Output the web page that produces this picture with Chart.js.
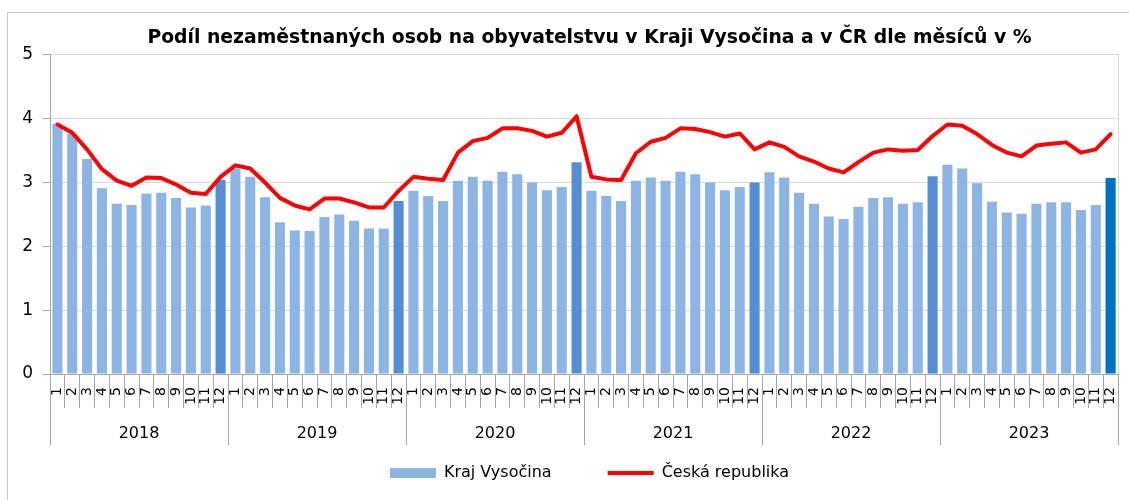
<!DOCTYPE html>
<html>
<head>
<meta charset="utf-8">
<script src="https://cdn.jsdelivr.net/npm/chart.js@4"></script>
<style>
  body { margin: 0; background: #fff; }
</style>
</head>
<body>
<canvas id="chart" width="1129" height="500"></canvas>
<script>
const years = ["2018", "2019", "2020", "2021", "2022", "2023"];
const months = ["1", "2", "3", "4", "5", "6", "7", "8", "9", "10", "11", "12"];
const monthLabels = years.flatMap(() => months); // month ticks repeat for every year

// Kraj Vysočina, % of population
const krajVysocina = [
  3.92, 3.76, 3.37, 2.91, 2.67, 2.65, 2.83, 2.84, 2.76, 2.61, 2.64, 3.04,
  3.22, 3.09, 2.77, 2.38, 2.25, 2.24, 2.46, 2.50, 2.40, 2.28, 2.28, 2.71,
  2.87, 2.79, 2.71, 3.03, 3.09, 3.03, 3.17, 3.13, 3.00, 2.88, 2.93, 3.32,
  2.87, 2.79, 2.71, 3.03, 3.08, 3.03, 3.17, 3.13, 3.00, 2.88, 2.93, 3.00,
  3.16, 3.08, 2.84, 2.67, 2.47, 2.43, 2.62, 2.76, 2.77, 2.67, 2.69, 3.10,
  3.28, 3.22, 2.99, 2.70, 2.53, 2.51, 2.67, 2.69, 2.69, 2.57, 2.65, 3.07,
];

// Česká republika, % of population
const ceskaRepublika = [
  3.91, 3.78, 3.52, 3.21, 3.03, 2.95, 3.08, 3.07, 2.97, 2.84, 2.82, 3.09,
  3.27, 3.22, 3.00, 2.76, 2.64, 2.58, 2.75, 2.75, 2.69, 2.61, 2.61, 2.87,
  3.09, 3.06, 3.04, 3.47, 3.65, 3.70, 3.85, 3.85, 3.81, 3.72, 3.78, 4.04,
  3.09, 3.05, 3.04, 3.46, 3.64, 3.70, 3.85, 3.84, 3.79, 3.72, 3.77, 3.52,
  3.63, 3.56, 3.41, 3.33, 3.22, 3.16, 3.32, 3.47, 3.52, 3.50, 3.51, 3.73,
  3.91, 3.89, 3.76, 3.59, 3.47, 3.41, 3.58, 3.61, 3.63, 3.47, 3.52, 3.76,
];

// December bars are darker, the latest one darkest
const barColors = krajVysocina.map((v, i) => {
  if (i === krajVysocina.length - 1) return "#0070C0";
  if (i % 12 === 11) return "#558ED5";
  return "#8DB4E2";
});

const axisGray = "#a6a6a6";
const gridGray = "#d9d9d9";

Chart.defaults.font.family = "'DejaVu Sans', Verdana, sans-serif";
Chart.defaults.color = "#000";

// outer frame of the whole chart
const framePlugin = {
  id: "frame",
  beforeDraw(chart) {
    const ctx = chart.ctx;
    ctx.save();
    ctx.strokeStyle = "#c8c8c8";
    ctx.lineWidth = 1;
    ctx.strokeRect(7.5, 12.5, 1200, 600);
    ctx.restore();
  },
};

new Chart(document.getElementById("chart"), {
  type: "bar",
  data: {
    labels: monthLabels,
    datasets: [
      {
        label: "Kraj Vysočina",
        data: krajVysocina,
        backgroundColor: barColors,
        borderWidth: 0,
        barPercentage: 0.68,
        categoryPercentage: 1,
        pointStyle: "rect",
        order: 1,
      },
      {
        type: "line",
        label: "Česká republika",
        data: ceskaRepublika,
        borderColor: "#FF0000",
        backgroundColor: "#FF0000",
        borderWidth: 4,
        borderJoinStyle: "round",
        borderCapStyle: "round",
        tension: 0,
        pointRadius: 0,
        pointHoverRadius: 0,
        pointStyle: "line",
        pointBorderColor: "#FF0000",
        pointBorderWidth: 4,
        order: 0,
      },
    ],
  },
  options: {
    responsive: false,
    animation: false,
    // negative right padding + wide empty right axis: title/legend centre further right
    layout: { padding: { left: 0, right: -50, top: 0, bottom: 9 } },
    plugins: {
      title: {
        display: true,
        text: "Podíl nezaměstnaných osob na obyvatelstvu v Kraji Vysočina a v ČR dle měsíců v %",
        font: { size: 18.8, weight: "bold" },
        color: "#000",
        padding: { top: 26.7, bottom: 5.7 },
      },
      legend: {
        position: "bottom",
        labels: {
          usePointStyle: true,
          pointStyleWidth: 46,
          boxHeight: 10,
          padding: 20,
          font: { size: 16 },
          color: "#000",
          sort: (a, b) => a.datasetIndex - b.datasetIndex,
          generateLabels(chart) {
            const items = Chart.defaults.plugins.legend.labels.generateLabels(chart);
            // wider gap after the first item, like the original legend
            items.forEach((item) => {
              if (item.datasetIndex === 0) item.text += "\u2003\u2003\u2005";
            });
            return items;
          },
        },
      },
      tooltip: { enabled: false },
    },
    scales: {
      y: {
        min: 0,
        max: 5,
        ticks: { stepSize: 1, padding: 10, font: { size: 17 }, color: "#000" },
        grid: { color: gridGray, tickLength: 7, tickColor: axisGray },
        border: { color: axisGray },
        afterFit: (s) => { s.width = 50; },
      },
      yRight: {
        type: "linear",
        position: "right",
        min: 0,
        max: 5,
        ticks: { display: false },
        grid: { display: false },
        border: { color: gridGray },
        afterFit: (s) => { s.width = 61; },
      },
      x: {
        type: "category",
        offset: true,
        weight: 0,
        grid: { offset: true, drawOnChartArea: false, tickLength: 34, color: axisGray },
        border: { color: axisGray },
        ticks: { autoSkip: false, minRotation: 90, maxRotation: 90, padding: -21, font: { size: 14 }, color: "#000" },
        afterFit: (s) => { s.height = 34; },
      },
      xYear: {
        type: "category",
        labels: years,
        position: "bottom",
        offset: true,
        weight: 1,
        grid: { offset: true, drawOnChartArea: false, tickLength: 37, color: axisGray },
        border: { display: false },
        ticks: { autoSkip: false, maxRotation: 0, padding: -21, font: { size: 16 }, color: "#000" },
        afterFit: (s) => { s.height = 37; },
      },
    },
  },
  plugins: [framePlugin],
});
</script>
</body>
</html>
